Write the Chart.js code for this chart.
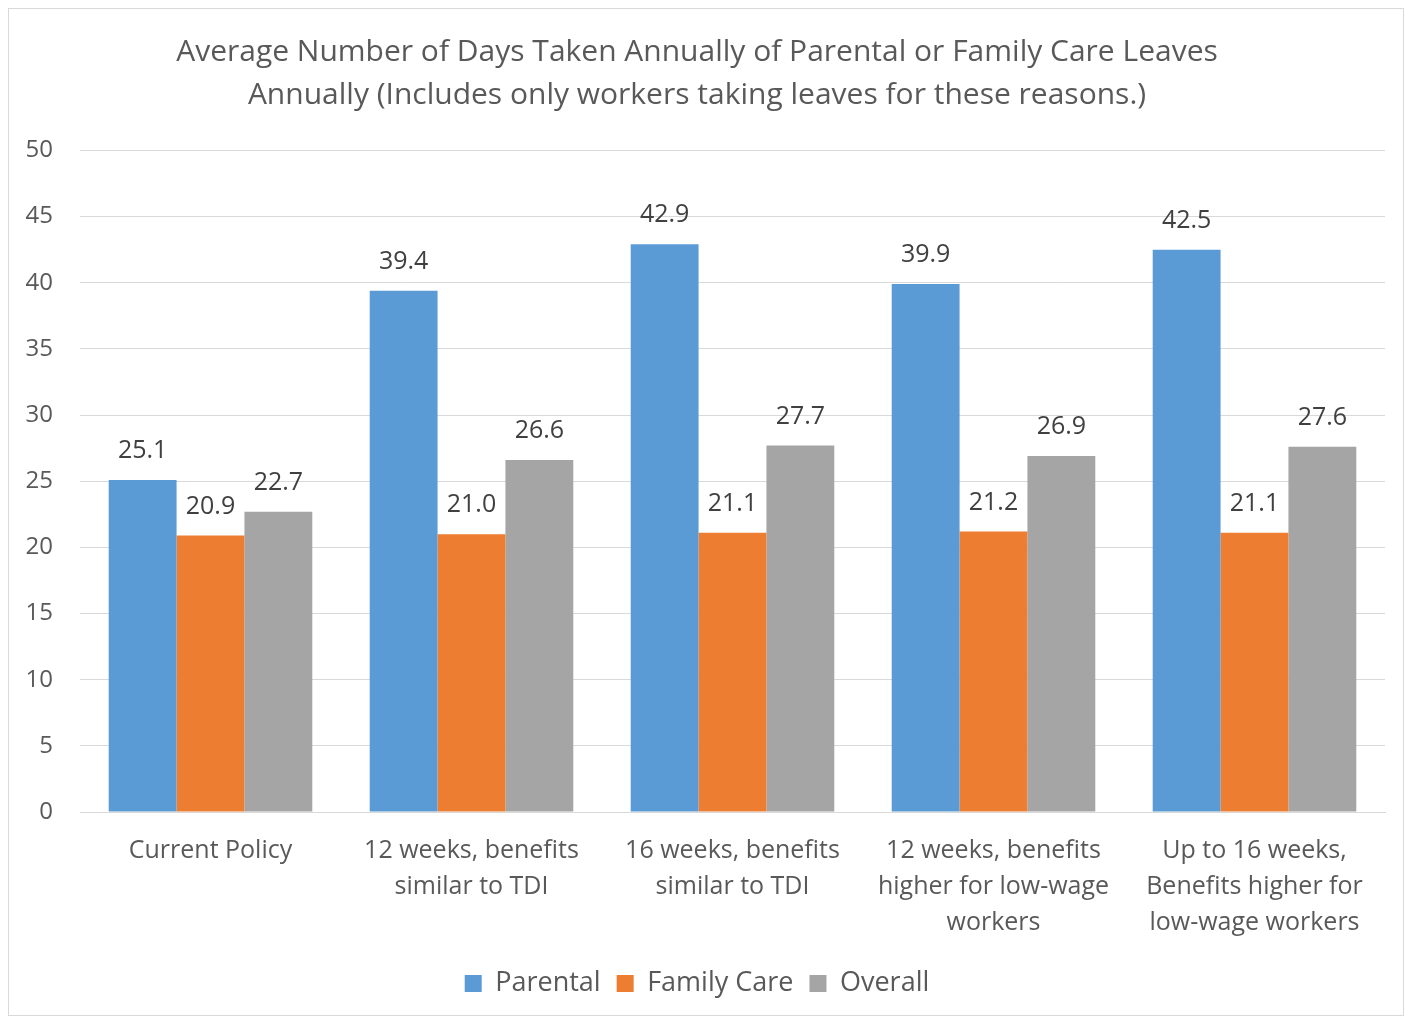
<!DOCTYPE html>
<html>
<head>
<meta charset="utf-8">
<script src="https://cdn.jsdelivr.net/npm/chart.js@4/dist/chart.umd.min.js"></script>
<style>
    body { margin: 0; background: #fff; }
    #wrap {
        position: absolute; left: 8px; top: 8px;
        width: 1396px; height: 1008px;
        border: 1px solid #d9d9d9; box-sizing: border-box;
    }
</style>
</head>
<body>
<div id="wrap"><canvas id="chart"></canvas></div>
<script>
// Chart data
const categories = [
    'Current Policy',
    ['12 weeks, benefits', 'similar to TDI'],
    ['16 weeks, benefits', 'similar to TDI'],
    ['12 weeks, benefits', 'higher for low-wage', 'workers'],
    ['Up to 16 weeks,', 'Benefits higher for', 'low-wage workers']
];
const parental = [25.1, 39.4, 42.9, 39.9, 42.5];
const familyCare = [20.9, 21.0, 21.1, 21.2, 21.1];
const overall = [22.7, 26.6, 27.7, 26.9, 27.6];

const FONT = '"Open Sans", sans-serif';

// Draw value labels above each bar
const valueLabels = {
    id: 'valueLabels',
    afterDatasetsDraw(chart) {
        const ctx = chart.ctx;
        ctx.save();
        ctx.font = '25px ' + FONT;
        ctx.fillStyle = '#404040';
        ctx.textAlign = 'center';
        ctx.textBaseline = 'middle';
        chart.data.datasets.forEach((ds, i) => {
            chart.getDatasetMeta(i).data.forEach((bar, j) => {
                ctx.fillText(ds.data[j].toFixed(1), bar.x, bar.y - 29);
            });
        });
        ctx.restore();
    }
};

new Chart(document.getElementById('chart'), {
    type: 'bar',
    data: {
        labels: categories,
        datasets: [
            { label: 'Parental', data: parental, backgroundColor: '#5B9BD5' },
            { label: 'Family Care', data: familyCare, backgroundColor: '#ED7D31' },
            { label: 'Overall', data: overall, backgroundColor: '#A5A5A5' }
        ]
    },
    options: {
        responsive: true,
        maintainAspectRatio: false,
        animation: false,
        categoryPercentage: 0.78,
        barPercentage: 1,
        layout: { padding: { left: 0, right: 18, top: 10, bottom: 8 } },
        plugins: {
            title: {
                display: true,
                text: ['Average Number of Days Taken Annually of Parental or Family Care Leaves',
                       'Annually (Includes only workers taking leaves for these reasons.)'],
                font: { family: FONT, size: 30, weight: 'normal', lineHeight: 1.44 },
                color: '#595959',
                padding: { top: 12, bottom: 33 }
            },
            legend: {
                position: 'bottom',
                labels: {
                    font: { family: FONT, size: 27 },
                    color: '#595959',
                    boxWidth: 17,
                    boxHeight: 17,
                    padding: 16
                }
            },
            tooltip: { enabled: false }
        },
        scales: {
            x: {
                grid: { display: false },
                border: { color: '#d9d9d9' },
                ticks: {
                    font: { family: FONT, size: 25, lineHeight: 1.44 },
                    color: '#595959',
                    padding: 13,
                    maxRotation: 0
                }
            },
            y: {
                min: 0,
                max: 50,
                grid: { color: '#d9d9d9', drawTicks: false },
                border: { display: false },
                afterFit(scale) { scale.width = 71; },
                ticks: {
                    stepSize: 5,
                    font: { family: FONT, size: 24 },
                    color: '#595959',
                    padding: 27
                }
            }
        }
    },
    plugins: [valueLabels]
});
</script>
</body>
</html>
